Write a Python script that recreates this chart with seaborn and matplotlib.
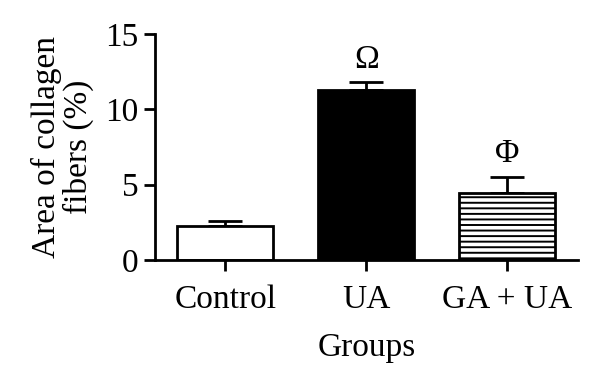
import matplotlib
matplotlib.use("Agg")
import matplotlib.pyplot as plt
import seaborn as sns
import pandas as pd

groups = ["Control", "UA", "GA + UA"]
means = [2.25, 11.25, 4.45]
sem = [0.35, 0.55, 1.05]
marks = ["", "Ω", "Φ"]

sns.set_style("ticks")
plt.rcParams["font.family"] = ["Liberation Serif", "DejaVu Serif"]
plt.rcParams["hatch.linewidth"] = 1.4
plt.rcParams["hatch.color"] = "black"
plt.rcParams["axes.edgecolor"] = "black"
plt.rcParams["text.color"] = "black"
plt.rcParams["axes.labelcolor"] = "black"
plt.rcParams["xtick.color"] = "black"
plt.rcParams["ytick.color"] = "black"

df = pd.DataFrame({"Groups": groups, "Area": means})

fig = plt.figure(figsize=(6, 3.8), dpi=100)
ax = fig.add_axes([0.258, 0.316, 0.705, 0.595])

sns.barplot(data=df, x="Groups", y="Area", order=groups, width=0.68,
            palette=["white", "black", "white"], hue="Groups", legend=False,
            edgecolor="black", linewidth=2, ax=ax)
ax.patches[2].set_hatch("---")

pos = ax.get_xticks()
ax.errorbar(pos, means, yerr=[[0] * 3, sem], fmt="none", ecolor="black",
            elinewidth=2, capsize=12, capthick=2, zorder=0)
for x, m, s, t in zip(pos, means, sem, marks):
    if t:
        ax.text(x, m + s + 0.5, t, ha="center", va="bottom", fontsize=24)

ax.set_xlim(-0.5, 2.5)
ax.set_ylim(0, 15)
ax.set_yticks([0, 5, 10, 15])
ax.set_ylabel("Area of collagen\nfibers (%)", fontsize=24, linespacing=1.05,
              labelpad=8)
ax.set_xlabel("Groups", fontsize=24, labelpad=12)
ax.tick_params(labelsize=24, width=2, length=8)
ax.tick_params(axis="x", pad=10)
for side in ["left", "bottom"]:
    ax.spines[side].set_linewidth(2)
sns.despine(ax=ax)

fig.savefig("out.png", dpi=100)
